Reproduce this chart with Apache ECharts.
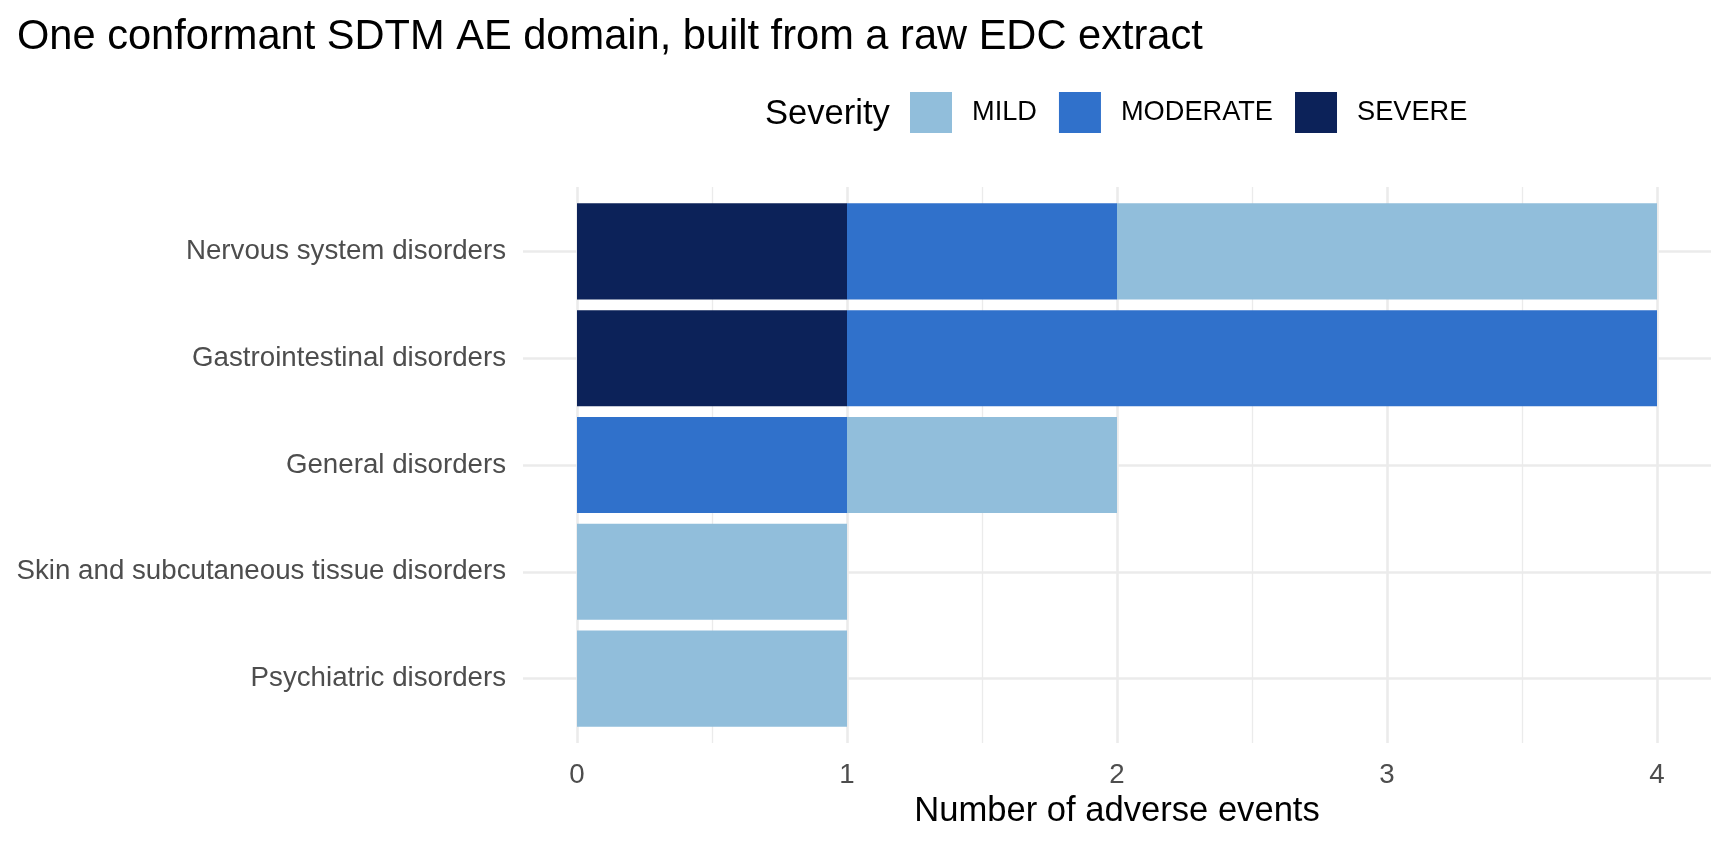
<!DOCTYPE html>
<html>
<head>
<meta charset="utf-8">
<script src="https://cdn.jsdelivr.net/npm/echarts@6/dist/echarts.min.js"></script>
<style>
  html, body { margin: 0; padding: 0; background: #fff; }
  #chart { width: 1728px; height: 844px; }
</style>
</head>
<body>
<div id="chart"></div>
<script>
const categories = [
    'Nervous system disorders',
    'Gastrointestinal disorders',
    'General disorders',
    'Skin and subcutaneous tissue disorders',
    'Psychiatric disorders'
];
const mild = [2, 0, 1, 1, 1];
const moderate = [1, 3, 1, 0, 0];
const severe = [1, 1, 0, 0, 0];
const legendOrder = ['MILD', 'MODERATE', 'SEVERE'];

const font = "'Liberation Sans', Arial, Helvetica, sans-serif";
const grid92 = '#EBEBEB';

const myChart = echarts.init(document.getElementById('chart'));

const option = {
    backgroundColor: '#fff',
    animation: false,
    textStyle: { fontFamily: font },
    title: [
        {
            text: 'One conformant SDTM AE domain, built from a raw EDC extract',
            left: 17,
            top: 17,
            padding: 0,
            textStyle: { fontFamily: font, fontSize: 41.6, fontWeight: 'normal', color: '#000' }
        },
        {
            text: 'Severity',
            left: 765,
            top: 97,
            padding: 0,
            textStyle: { fontFamily: font, fontSize: 34.6, fontWeight: 'normal', color: '#000' }
        }
    ],
    legend: {
        data: legendOrder,
        left: 910,
        top: 92,
        padding: 0,
        icon: 'rect',
        itemWidth: 42,
        itemHeight: 41,
        itemGap: 22,
        selectedMode: false,
        textStyle: { fontFamily: font, fontSize: 27.2, color: '#000', padding: [6, 0, 0, 15] }
    },
    grid: [
        // bars and horizontal grid lines
        { left: 523, right: 17, top: 198, bottom: 112 },
        // vertical grid lines and x axis text
        { left: 577, right: 71, top: 187, bottom: 101 }
    ],
    xAxis: [
        {
            gridIndex: 0,
            type: 'value',
            min: -0.2,
            max: 4.2,
            axisLine: { show: false },
            axisTick: { show: false },
            axisLabel: { show: false },
            splitLine: { show: false }
        },
        {
            gridIndex: 1,
            type: 'value',
            min: 0,
            max: 4,
            interval: 1,
            axisLine: { show: false },
            axisTick: { show: false },
            minorTick: { show: false, splitNumber: 2 },
            axisLabel: { fontFamily: font, fontSize: 27.7, color: '#4D4D4D', margin: 18 },
            splitLine: { show: true, lineStyle: { color: grid92, width: 2.6 } },
            minorSplitLine: { show: true, lineStyle: { color: grid92, width: 1.3 } },
            name: 'Number of adverse events',
            nameLocation: 'middle',
            nameGap: 48,
            nameTextStyle: { fontFamily: font, fontSize: 34.6, color: '#000' }
        }
    ],
    yAxis: [
        {
            gridIndex: 0,
            type: 'category',
            data: categories,
            inverse: true,
            axisLine: { show: false, onZero: false },
            // ticks stretched across the panel act as the horizontal grid lines
            axisTick: {
                show: true,
                alignWithLabel: true,
                inside: true,
                length: 1188,
                lineStyle: { color: grid92, width: 2.6 }
            },
            axisLabel: { fontFamily: font, fontSize: 27.7, color: '#4D4D4D', margin: 17, padding: [4, 0, 0, 0] },
            splitLine: { show: false }
        },
        {
            gridIndex: 1,
            type: 'value',
            show: false
        }
    ],
    series: [
        {
            name: 'SEVERE',
            type: 'bar',
            stack: 'ae',
            barWidth: '90%',
            data: severe,
            itemStyle: { color: '#0C2259' }
        },
        {
            name: 'MODERATE',
            type: 'bar',
            stack: 'ae',
            barWidth: '90%',
            data: moderate,
            itemStyle: { color: '#3071CB' }
        },
        {
            name: 'MILD',
            type: 'bar',
            stack: 'ae',
            barWidth: '90%',
            data: mild,
            itemStyle: { color: '#91BEDB' }
        }
    ]
};
myChart.setOption(option);
</script>
</body>
</html>
